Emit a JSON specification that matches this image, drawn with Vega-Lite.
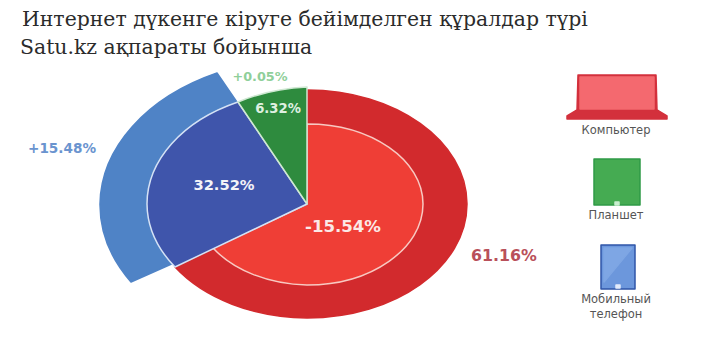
{
"$schema":"https://vega.github.io/schema/vega-lite/v6.json",
"width":701,"height":344,"padding":0,"autosize":{"type":"none"},"background":"white",
"config":{"view":{"stroke":null}},
"datasets":{
"parts":[
{"part":"Компьютер, кіру","x":307,"y":204},
{"part":"Компьютер, өзгеріс","x":307,"y":204},
{"part":"Мобильный, өзгеріс","x":307,"y":204},
{"part":"Мобильный, кіру","x":307,"y":204},
{"part":"Планшет, кіру","x":307,"y":204},
{"part":"laptop base","x":617,"y":97},
{"part":"laptop screen","x":617,"y":97},
{"part":"tablet","x":617,"y":182},
{"part":"tablet dot","x":617,"y":182},
{"part":"phone","x":618,"y":267},
{"part":"phone glare","x":618,"y":267},
{"part":"phone dot","x":618,"y":267}
],
"titles":[
{"text":"Интернет дүкенге кіруге бейімделген құралдар түрі","x":22,"y":20},
{"text":"Satu.kz ақпараты бойынша","x":20,"y":48}
],
"values":[
{"text":"+0.05%","group":"tablet change","x":260,"y":77},
{"text":"6.32%","group":"tablet share","x":278,"y":109},
{"text":"32.52%","group":"phone share","x":224,"y":186},
{"text":"-15.54%","group":"computer change","x":343,"y":227},
{"text":"+15.48%","group":"phone change","x":62,"y":149},
{"text":"61.16%","group":"computer share","x":504,"y":256}
],
"legend":[
{"text":"Компьютер","x":616,"y":131},
{"text":"Планшет","x":616,"y":216},
{"text":"Мобильный","x":616,"y":300},
{"text":"телефон","x":616,"y":315}
]},
"encoding":{
"x":{"field":"x","type":"quantitative","axis":null,"scale":{"domain":[0,701],"range":[0,701]}},
"y":{"field":"y","type":"quantitative","axis":null,"scale":{"domain":[0,344],"range":[0,344]}}
},
"layer":[
{"data":{"name":"parts"},
"mark":{"type":"point","filled":true,"size":4,"opacity":1,"strokeWidth":1.5,"strokeJoin":"round"},
"encoding":{
"shape":{"field":"part","type":"nominal","legend":null,"scale":{
"domain":["Компьютер, кіру","Компьютер, өзгеріс","Мобильный, өзгеріс","Мобильный, кіру","Планшет, кіру","laptop base","laptop screen","tablet","tablet dot","phone","phone glare","phone dot"],
"range":[
"M0,0L0,-114A160,114 0 0 1 160,0A160,114 0 0 1 0,114A160,114 0 0 1 -132,63Z",
"M0,0L0,-80A116,80 0 0 1 116,0A116,81 0 0 1 0,81A116,81 0 0 1 -94,44Z",
"M0,0L-176,78A207,147 0 0 1 -207,0A207,147 0 0 1 -90,-131Z",
"M0,0L-132,63A160,113 0 0 1 -160,0A160,113 0 0 1 -69,-102Z",
"M0,0L-69,-102A160,117 0 0 1 0,-117Z",
"M-39,-22L39,-22L40,13L50,19L50,22L-50,22L-50,19L-40,13Z",
"M-37,-20L37,-20L37,12L-37,12Z",
"M-23,-23L23,-23L23,23L-23,23Z",
"M-2,20L2,20L2,23L-2,23Z",
"M-17,-22L17,-22L17,22L-17,22Z",
"M-14,-19L14,-19L-14,15Z",
"M-2,18L2,18L2,21L-2,21Z"
]}},
"fill":{"field":"part","type":"nominal","legend":null,"scale":{
"domain":["Компьютер, кіру","Компьютер, өзгеріс","Мобильный, өзгеріс","Мобильный, кіру","Планшет, кіру","laptop base","laptop screen","tablet","tablet dot","phone","phone glare","phone dot"],
"range":["#d22a2d","#ef3e36","#4f83c6","#3f55ab","#2e8b3e","#d3303c","#f4696f","#45ab52","#c9efd0","#6c97dc","#7ea6e4","#e3ecfb"]}},
"stroke":{"field":"part","type":"nominal","legend":null,"scale":{
"domain":["Компьютер, кіру","Компьютер, өзгеріс","Мобильный, өзгеріс","Мобильный, кіру","Планшет, кіру","laptop base","laptop screen","tablet","tablet dot","phone","phone glare","phone dot"],
"range":["#d22a2d","#f8c9c2","#4f83c6","#d5e2f5","#cfe8d2","#d3303c","#f4696f","#2f9a47","#c9efd0","#2f55a8","#7ea6e4","#e3ecfb"]}}
}},
{"data":{"name":"titles"},
"mark":{"type":"text","align":"left","baseline":"middle","font":"DejaVu Serif","fontSize":20.4,"fill":"#2b2b2b"},
"encoding":{"text":{"field":"text"}}},
{"data":{"name":"values"},"transform":[{"filter":"datum.group=='tablet change'"}],
"mark":{"type":"text","align":"center","baseline":"middle","font":"DejaVu Sans","fontWeight":"bold","fontSize":12.8,"fill":"#8fcf9a"},
"encoding":{"text":{"field":"text"}}},
{"data":{"name":"values"},"transform":[{"filter":"datum.group=='tablet share'"}],
"mark":{"type":"text","align":"center","baseline":"middle","font":"DejaVu Sans","fontWeight":"bold","fontSize":13.2,"fill":"#dff0e0"},
"encoding":{"text":{"field":"text"}}},
{"data":{"name":"values"},"transform":[{"filter":"datum.group=='phone share'"}],
"mark":{"type":"text","align":"center","baseline":"middle","font":"DejaVu Sans","fontWeight":"bold","fontSize":14.7,"fill":"#f3f3f8"},
"encoding":{"text":{"field":"text"}}},
{"data":{"name":"values"},"transform":[{"filter":"datum.group=='computer change'"}],
"mark":{"type":"text","align":"center","baseline":"middle","font":"DejaVu Sans","fontWeight":"bold","fontSize":16.6,"fill":"#fbe9e7"},
"encoding":{"text":{"field":"text"}}},
{"data":{"name":"values"},"transform":[{"filter":"datum.group=='phone change'"}],
"mark":{"type":"text","align":"center","baseline":"middle","font":"DejaVu Sans","fontWeight":"bold","fontSize":13.6,"fill":"#6a94cf"},
"encoding":{"text":{"field":"text"}}},
{"data":{"name":"values"},"transform":[{"filter":"datum.group=='computer share'"}],
"mark":{"type":"text","align":"center","baseline":"middle","font":"DejaVu Sans","fontWeight":"bold","fontSize":15.8,"fill":"#b9505a"},
"encoding":{"text":{"field":"text"}}},
{"data":{"name":"legend"},
"mark":{"type":"text","align":"center","baseline":"middle","font":"DejaVu Sans","fontSize":11.5,"fill":"#555555"},
"encoding":{"text":{"field":"text"}}}
]
}
